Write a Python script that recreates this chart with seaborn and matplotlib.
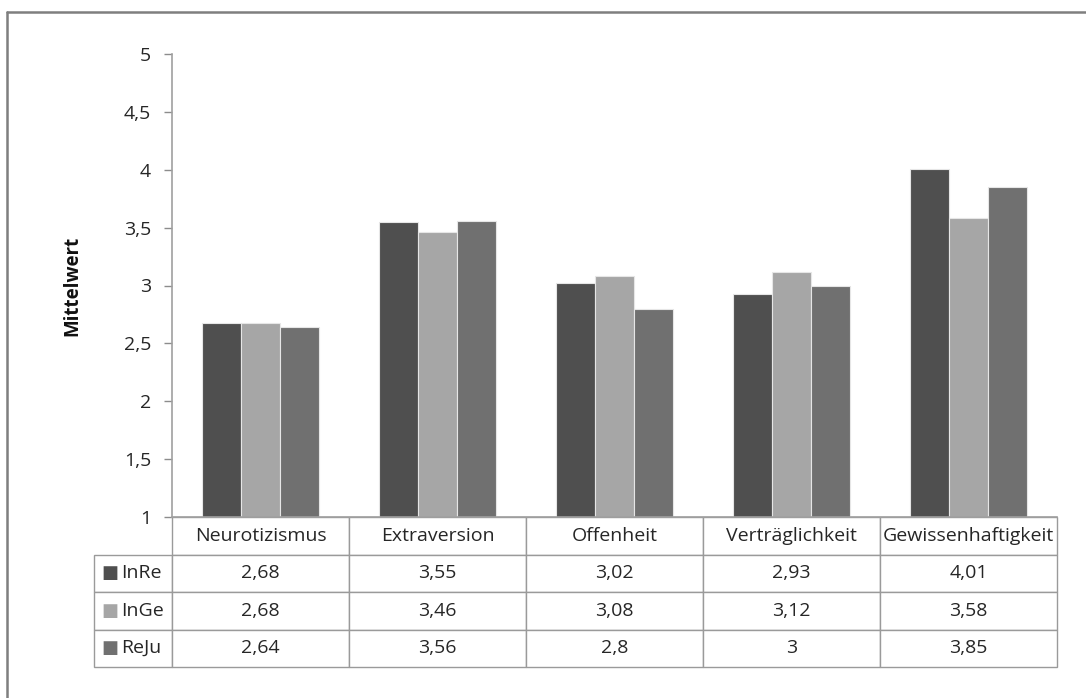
import matplotlib
matplotlib.use("Agg")
import matplotlib.pyplot as plt
from matplotlib.lines import Line2D
import pandas as pd
import seaborn as sns

# data
categories = ["Neurotizismus", "Extraversion", "Offenheit", "Verträglichkeit", "Gewissenhaftigkeit"]
groups = ["InRe", "InGe", "ReJu"]
inre = [2.68, 3.55, 3.02, 2.93, 4.01]
inge = [2.68, 3.46, 3.08, 3.12, 3.58]
reju = [2.64, 3.56, 2.80, 3.00, 3.85]
colors = ["#4f4f4f", "#a6a6a6", "#707070"]


def de(v):
    """German number format"""
    return f"{v:g}".replace(".", ",")


df = pd.DataFrame({"Kategorie": categories * 3,
                   "Gruppe": [g for g in groups for _ in categories],
                   "Mittelwert": inre + inge + reju})

sns.set_theme(style="white")
plt.rcParams["font.family"] = ["Open Sans", "DejaVu Sans"]
FS = 14
TXT = "#262626"

W, H = 1086, 698
fig = plt.figure(figsize=(W / 100, H / 100), dpi=100)
x0, x1, y0, y1 = 172, 1057, 54, 517
ax = fig.add_axes([x0 / W, 1 - y1 / H, (x1 - x0) / W, (y1 - y0) / H])

sns.barplot(data=df, x="Kategorie", y="Mittelwert", hue="Gruppe",
            palette=colors, width=0.66, gap=0, ax=ax, legend=False,
            edgecolor="#e6e6e6", linewidth=0.8, err_kws={"linewidth": 0})
ax.set_ylim(1, 5)
ax.set_xlim(-0.5, 4.5)
ax.set_yticks([1 + 0.5 * i for i in range(9)])
ax.set_yticklabels([de(1 + 0.5 * i) for i in range(9)], fontsize=FS, color=TXT)
ax.set_xticks([])
ax.set_xlabel("")
ax.set_ylabel("Mittelwert", fontsize=13.5, fontweight="bold", color="#111111", labelpad=30)
ax.tick_params(axis="y", direction="out", length=6, width=1, color="#8c8c8c", pad=9, left=True)
for s in ["top", "right"]:
    ax.spines[s].set_visible(False)
for s in ["left", "bottom"]:
    ax.spines[s].set_color("#a0a0a0")
    ax.spines[s].set_linewidth(1.2)

# data table below the axes
ah = y1 - y0
aw = x1 - x0
tab_left, tab_bottom = 94, 667
cell_rows = [[""] + categories] + [[""] + [de(v) for v in vals] for vals in (inre, inge, reju)]
lw = (x0 - tab_left) / aw
tbl = ax.table(cellText=cell_rows, cellLoc="center",
               colWidths=[lw] + [0.2] * 5,
               bbox=[(tab_left - x0) / aw, -(tab_bottom - y1) / ah,
                     (x1 - tab_left) / aw, (tab_bottom - y1) / ah])
tbl.auto_set_font_size(False)
tbl.set_fontsize(FS)
for (r, c), cell in tbl.get_celld().items():
    cell.set_edgecolor("#9a9a9a")
    cell.set_linewidth(1.0)
    cell.get_text().set_color(TXT)
    if r == 0 and c == 0:
        cell.visible_edges = ""

row_h = (tab_bottom - y1) / 4
for i, (g, col) in enumerate(zip(groups, colors)):
    yc = y1 + row_h * (i + 1.5)
    fig.text(101 / W, 1 - yc / H, "■", color=col, fontsize=13, va="center", ha="left",
             family=["DejaVu Sans"])
    fig.text(121 / W, 1 - yc / H, g, color=TXT, fontsize=FS, va="center", ha="left")

# chart border
fig.add_artist(Line2D([7 / W, 1], [1 - 12 / H, 1 - 12 / H], color="#7f7f7f", linewidth=1.8))
fig.add_artist(Line2D([7 / W, 7 / W], [0, 1 - 12 / H], color="#7f7f7f", linewidth=1.8))

fig.savefig("out.png", dpi=100)
